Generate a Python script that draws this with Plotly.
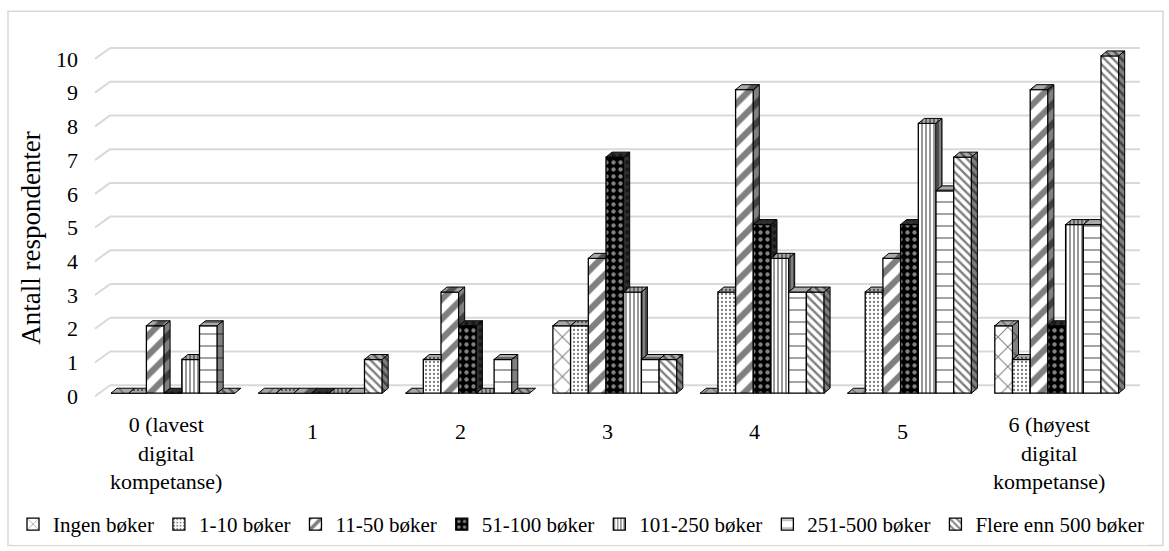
import plotly.graph_objects as go

# ---- data -------------------------------------------------------------
CATEGORIES = ["0 (lavest<br>digital<br>kompetanse)", "1", "2", "3", "4", "5",
              "6 (høyest<br>digital<br>kompetanse)"]
SERIES = ["Ingen bøker", "1-10 bøker", "11-50 bøker", "51-100 bøker",
          "101-250 bøker", "251-500 bøker", "Flere enn 500 bøker"]

ingen = [0, 0, 0, 2, 0, 0, 2]
b1_10 = [0, 0, 1, 2, 3, 3, 1]
b11_50 = [2, 0, 3, 4, 9, 4, 9]
b51_100 = [0, 0, 2, 7, 5, 5, 2]
b101_250 = [1, 0, 0, 3, 4, 8, 5]
b251_500 = [2, 0, 1, 1, 3, 6, 5]
b500 = [0, 1, 0, 1, 3, 7, 10]
VALUES = [ingen, b1_10, b11_50, b51_100, b101_250, b251_500, b500]

Y_TICKS = list(range(0, 11))

# ---- styling / geometry ----------------------------------------------
FONT = "Liberation Serif"
FS = 22
W, H = 1169, 551
ML, MR = 8, 6              # plotting domain spans almost the whole figure
PT, PB = 40, 438
AXIS_PX = 92               # front edge of the floor (value axis)
X0 = 398                   # pixel row of value 0 on the front plane
PX_X = 147.3               # px per category
PX_Y = 33.9                # px per unit


def px_x(p):
    """pixel column -> x data"""
    return -0.5 + (p - AXIS_PX) / PX_X


xr = [px_x(ML), px_x(W - MR)]
yr = [(X0 - PB) / PX_Y, (X0 - PT) / PX_Y]

BW = 17.7 / PX_X               # bar width
CL = (111 - AXIS_PX) / PX_X - 0.5  # cluster left offset from category centre
BASE = 3 / PX_Y                # bar floor (mid depth)
DX, DY = 6 / PX_X, 5 / PX_Y    # bar depth
GX, GY = 15 / PX_X, 11 / PX_Y  # wall depth

PATTERNS = [
    dict(shape="x", fgcolor="black", bgcolor="white", size=14, solidity=0.14),
    dict(shape=".", fgcolor="black", bgcolor="white", size=4, solidity=0.25),
    dict(shape="/", fgcolor="black", bgcolor="white", size=14, solidity=0.45),
    dict(shape=".", fgcolor="white", bgcolor="black", size=7, solidity=0.3),
    dict(shape="|", fgcolor="black", bgcolor="white", size=4, solidity=0.4),
    dict(shape="-", fgcolor="black", bgcolor="white", size=12, solidity=0.12),
    dict(shape="\\", fgcolor="black", bgcolor="white", size=6, solidity=0.4),
]

fig = go.Figure()

# front faces
for s, (name, vals) in enumerate(zip(SERIES, VALUES)):
    xs = [k + CL + s * BW + BW / 2 for k in range(len(vals))]
    fig.add_trace(go.Bar(
        x=xs, y=vals, base=BASE, width=BW, name=name,
        marker=dict(color=PATTERNS[s]["bgcolor"], pattern=PATTERNS[s],
                    line=dict(color="black", width=1.3)),
        hoverinfo="skip",
    ))

# top and side faces, drawn series by series so later bars hide earlier sides
for s, vals in enumerate(VALUES):
    top_x, top_y, side_x, side_y = [], [], [], []
    for k, v in enumerate(vals):
        L = k + CL + s * BW
        R = L + BW
        t = BASE + v
        tn = BASE + VALUES[s + 1][k] if s + 1 < len(VALUES) else None
        if tn is not None and tn > t:
            px = [L, R, R, L + DX, L]
        else:
            px = [L, R, R + DX, L + DX, L]
        top_x += px + [None]
        top_y += [t, t, t + DY, t + DY, t, None]
        lo = BASE if tn is None else max(tn, BASE)
        if t > lo:
            side_x += [R, R, R + DX, R + DX, R, None]
            side_y += [lo, t, t + DY, lo + DY, lo, None]
    pat = PATTERNS[s]
    dark = pat["bgcolor"] != "white"
    fig.add_trace(go.Scatter(
        x=top_x, y=top_y, mode="lines", fill="toself",
        fillpattern=dict(shape=pat["shape"], fgcolor="black",
                         bgcolor="#303030" if dark else "#a8a8a8",
                         size=pat["size"], solidity=pat["solidity"]),
        line=dict(color="black", width=1), hoverinfo="skip", showlegend=False,
    ))
    if side_x:
        fig.add_trace(go.Scatter(
            x=side_x, y=side_y, mode="lines", fill="toself",
            fillpattern=dict(shape=pat["shape"], fgcolor="black",
                             bgcolor="#303030" if dark else "#808080",
                             size=pat["size"], solidity=pat["solidity"]),
            line=dict(color="black", width=1), hoverinfo="skip", showlegend=False,
        ))

# wall gridlines (side wall diagonal + back wall)
shapes = []
gx0 = px_x(95)
for v in Y_TICKS:
    shapes.append(dict(type="line", xref="x", yref="y", layer="below",
                       x0=gx0, y0=v, x1=gx0 + GX, y1=v + GY,
                       line=dict(color="#d9d9d9", width=2)))
    shapes.append(dict(type="line", xref="x", yref="y", layer="below",
                       x0=gx0 + GX, y0=v + GY, x1=px_x(1140), y1=v + GY,
                       line=dict(color="#d9d9d9", width=2)))


def paper_x(p):
    return (p - ML) / (W - ML - MR)


def paper_y(p):
    return (PB - p) / (PB - PT)


# chart border
shapes.append(dict(type="rect", xref="paper", yref="paper",
                   x0=paper_x(8), x1=paper_x(1163),
                   y0=paper_y(548), y1=paper_y(11),
                   line=dict(color="#d9d9d9", width=1.5)))

# category labels
annotations = []
for k, label in enumerate(CATEGORIES):
    annotations.append(dict(
        x=k, xref="x", y=paper_y(455 if "<br>" in label else 433), yref="paper",
        text=label, showarrow=False, xanchor="center", yanchor="middle",
        font=dict(family=FONT, size=FS, color="black"),
    ))

fig.update_layout(
    width=W, height=H,
    margin=dict(l=ML, r=MR, t=PT, b=H - PB),
    paper_bgcolor="white", plot_bgcolor="rgba(0,0,0,0)",
    barmode="overlay",
    font=dict(family=FONT, size=FS, color="black"),
    xaxis=dict(range=xr, showgrid=False, zeroline=False, showline=False,
               showticklabels=False, ticks=""),
    yaxis=dict(range=yr, tickvals=Y_TICKS, showgrid=False, zeroline=False,
               showline=False, ticks="", ticklabelstandoff=14,
               anchor="free", position=paper_x(AXIS_PX),
               tickfont=dict(family=FONT, size=FS, color="black"),
               title=dict(text="Antall respondenter", standoff=6,
                          font=dict(family=FONT, size=27, color="black"))),
    legend=dict(orientation="h", x=paper_x(581), xanchor="center",
                y=paper_y(527), yanchor="middle",
                font=dict(family=FONT, size=21, color="black"),
                itemwidth=30, traceorder="normal"),
    shapes=shapes, annotations=annotations,
    hovermode=False,
)

fig.write_html("out.html")
